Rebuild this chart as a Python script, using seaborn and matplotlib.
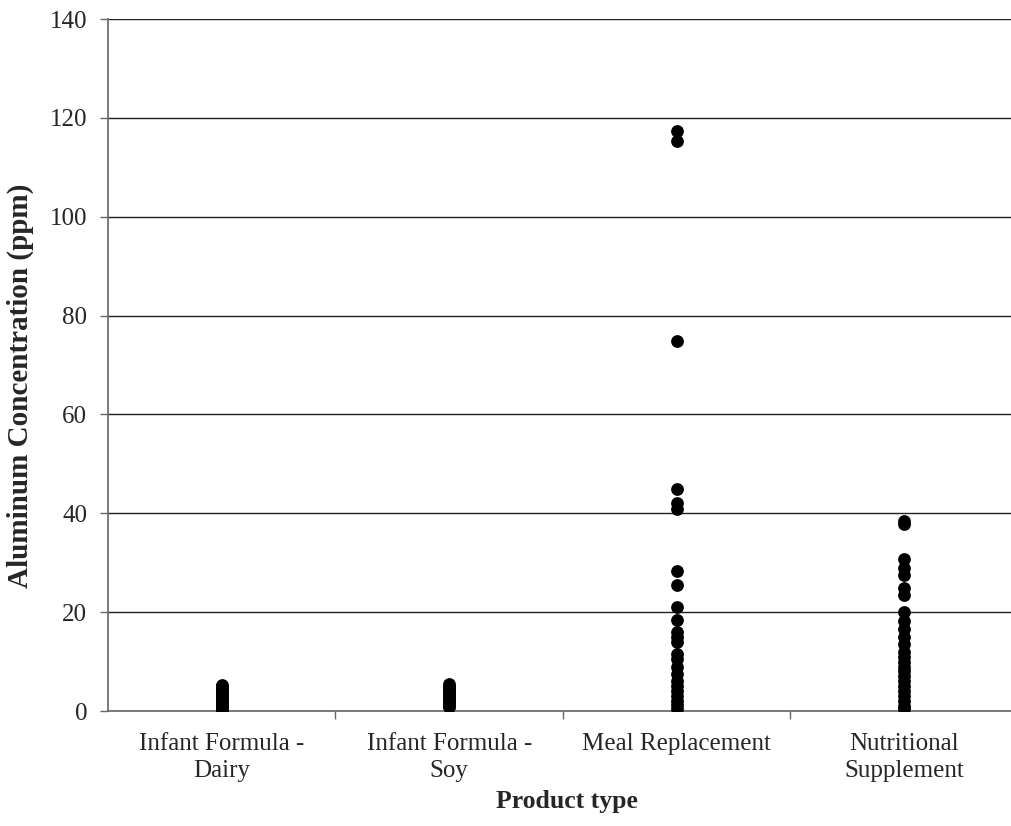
import matplotlib
matplotlib.use("Agg")
import matplotlib.pyplot as plt
import seaborn as sns
import pandas as pd

categories = ["Infant Formula -\nDairy", "Infant Formula -\nSoy", "Meal Replacement", "Nutritional\nSupplement"]

dairy = [0.1, 0.3, 0.5, 0.8, 1.0, 1.3, 1.6, 1.9, 2.2, 2.5, 2.8, 3.1, 3.4, 3.7, 4.0, 4.3, 4.6, 5.0, 5.3]
soy = [0.8, 1.1, 1.4, 1.7, 2.0, 2.3, 2.6, 2.9, 3.2, 3.5, 3.8, 4.1, 4.4, 4.7, 5.0, 5.5]
meal = [117.3, 115.3, 74.8, 45.0, 42.0, 40.8, 28.3, 25.5, 21.0, 18.5, 16.0, 15.0, 14.0,
        11.5, 10.5, 9.0, 7.5, 6.0, 5.0, 4.0, 3.0, 2.0, 1.2, 0.5]
supplement = [38.5, 37.8, 30.8, 29.0, 27.5, 24.8, 23.5, 20.0, 18.3, 16.5, 15.0, 13.5, 12.0,
              11.0, 10.0, 9.0, 8.0, 7.0, 6.0, 5.0, 4.0, 3.0, 2.0, 1.0, 0.5]

y_ticks = [0, 20, 40, 60, 80, 100, 120, 140]

rows = []
for cat, vals in zip(categories, [dairy, soy, meal, supplement]):
    rows += [(cat, v) for v in vals]
df = pd.DataFrame(rows, columns=["Product type", "Aluminum"])

sns.set_style("white")
plt.rcParams["font.family"] = ["Liberation Serif", "DejaVu Serif"]

fig = plt.figure(figsize=(10.12, 8.26), dpi=100)
ax = fig.add_axes([108 / 1012, 1 - 711 / 826, (1018 - 108) / 1012, (711 - 19) / 826])

sns.stripplot(data=df, x="Product type", y="Aluminum", order=categories, jitter=False,
              color="black", size=9.2, linewidth=0, ax=ax, zorder=3)

ax.set_xlim(-0.5, 3.5)
ax.set_ylim(0, 140)
ax.set_yticks(y_ticks)
ax.set_yticklabels([str(t) for t in y_ticks], fontsize=18)
ax.yaxis.grid(True, color="#222222", linewidth=1.0)
ax.set_axisbelow(True)

ax.set_xticks(range(len(categories)))
ax.set_xticklabels(categories, fontsize=18, linespacing=1.3)
ax.set_xticks([0.5, 1.5, 2.5], minor=True)
ax.tick_params(axis="x", which="major", bottom=False, length=0, pad=16)
ax.tick_params(axis="x", which="minor", bottom=True, length=6, width=1, color="#666666", direction="out")
ax.tick_params(axis="y", which="major", left=True, length=6, width=1, color="#666666",
               direction="out", pad=9)

for side in ["top", "right"]:
    ax.spines[side].set_visible(False)
for side in ["left", "bottom"]:
    ax.spines[side].set_color("#666666")
    ax.spines[side].set_linewidth(1.2)

ax.set_xlabel("Product type", fontsize=18.5, fontweight="bold")
ax.set_ylabel("Aluminum Concentration (ppm)", fontsize=21, fontweight="bold")
ax.xaxis.set_label_coords(0.504, -0.1315)
ax.yaxis.set_label_coords(-0.0967, 0.47)
ax.xaxis.label.set_verticalalignment("center")
ax.yaxis.label.set_verticalalignment("center")

fig.savefig("out.png", dpi=100)
